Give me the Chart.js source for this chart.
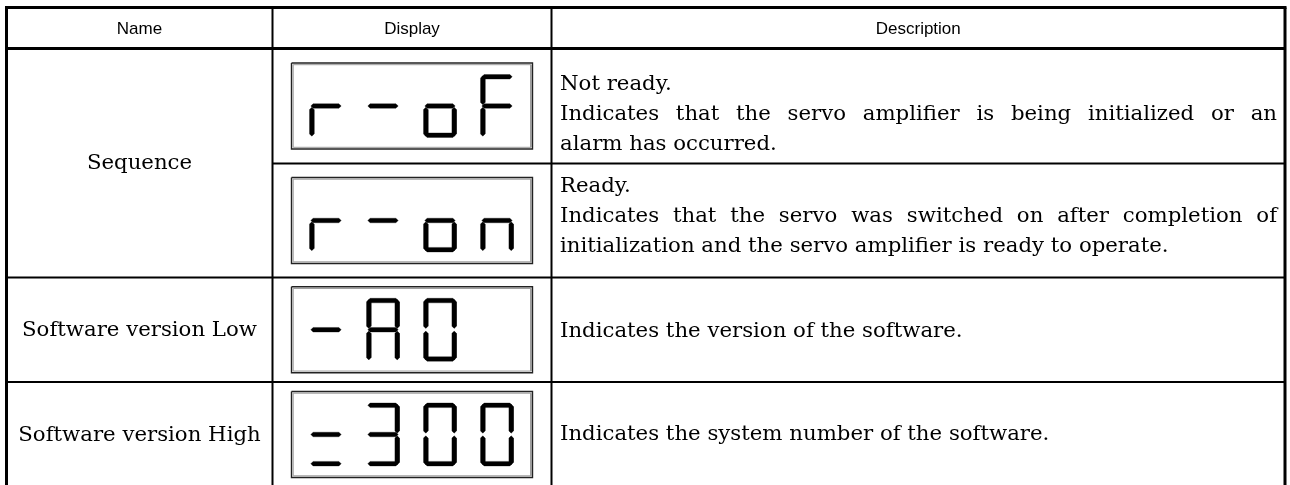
<!DOCTYPE html>
<html>
<head>
<meta charset="utf-8">
<script src="https://cdn.jsdelivr.net/npm/chart.js@4.4.1/dist/chart.umd.min.js"></script>
<style>
  html, body { margin: 0; padding: 0; background: #fff; }
  #wrap { width: 1290px; height: 485px; position: relative; }
</style>
</head>
<body>
<div id="wrap"><canvas id="table"></canvas></div>
<script>
// --- table content ---
const headers = ["Name", "Display", "Description"];
const names = ["Sequence", "Software version Low", "Software version High"];
const nameRowSpan = [2, 1, 1];
const displays = ["r-oF", "r-on", "-A0 ", "=300"];
// each row: paragraphs, each paragraph: lines (all but the last line are justified)
const descriptions = [
  [["Not ready."], ["Indicates that the servo amplifier is being initialized or an", "alarm has occurred."]],
  [["Ready."], ["Indicates that the servo was switched on after completion of", "initialization and the servo amplifier is ready to operate."]],
  [["Indicates the version of the software."]],
  [["Indicates the system number of the software."]]
];
// lit segments for each character of the 7-segment display
const segmentMap = { "r": "eg", "-": "g", "o": "cdeg", "F": "aefg", "n": "ceg", "A": "abcefg", "0": "abcdef", "=": "dg", "3": "abcdg", " ": "" };

// --- layout (pixels in the 1290 x 485 frame) ---
const colEdges = [6.5, 272.5, 551.5, 1285];
const rowEdges = [7.5, 48.5, 163.5, 277.5, 382, 487];
const boxW = 241, boxH = 86;
const digitLeft = 18, digitPitch = 57, digitW = 33, digitH = 63, digitTop = 11.5, segT = 4.6;
const descLeft = 560, descRight = 1277, descLineGap = 30;
const descBaseline = [90, 192, 337, 440];
const bodyFont = '19.5px "DejaVu Serif", serif', bodyStretch = 1.09;

const lineDatasets = [];
function addLine(pts, width, color) {
  lineDatasets.push({
    data: pts.map(([x, y]) => ({ x, y })),
    borderColor: color, borderWidth: width, pointRadius: 0, fill: false
  });
}
function addShape(pts, color) {
  const data = pts.map(([x, y]) => ({ x, y }));
  data.push({ x: pts[0][0], y: pts[0][1] });
  lineDatasets.push({
    data, borderColor: color, backgroundColor: color, borderWidth: 0.3,
    pointRadius: 0, fill: "shape"
  });
}

// table grid
const [cL, c1, c2, cR] = colEdges;
addLine([[cL - 1.5, rowEdges[0]], [cR + 1.5, rowEdges[0]]], 3, "#000");
addLine([[cL, rowEdges[0]], [cL, rowEdges[5]]], 3, "#000");
addLine([[cR, rowEdges[0]], [cR, rowEdges[5]]], 3, "#000");
addLine([[cL, rowEdges[1]], [cR, rowEdges[1]]], 3, "#000");
addLine([[c1, rowEdges[0]], [c1, rowEdges[5]]], 2, "#000");
addLine([[c2, rowEdges[0]], [c2, rowEdges[5]]], 2, "#000");
addLine([[c1, rowEdges[2]], [cR, rowEdges[2]]], 2, "#000");
addLine([[cL, rowEdges[3]], [cR, rowEdges[3]]], 2, "#000");
addLine([[cL, rowEdges[4]], [cR, rowEdges[4]]], 2, "#000");

function segmentPoly(seg, x0, y0) {
  const h = segT / 2, g = 1.3, w = digitW, H = digitH;
  const horiz = (y, xa, xb) => [[xa, y], [xa + h, y - h], [xb - h, y - h], [xb, y], [xb - h, y + h], [xa + h, y + h]];
  const vert = (x, ya, yb) => [[x, ya], [x + h, ya + h], [x + h, yb - h], [x, yb], [x - h, yb - h], [x - h, ya + h]];
  switch (seg) {
    case "a": return horiz(y0 + h, x0 + g, x0 + w - g);
    case "g": return horiz(y0 + H / 2, x0 + g, x0 + w - g);
    case "d": return horiz(y0 + H - h, x0 + g, x0 + w - g);
    case "f": return vert(x0 + h, y0 + g, y0 + H / 2 - g);
    case "b": return vert(x0 + w - h, y0 + g, y0 + H / 2 - g);
    case "e": return vert(x0 + h, y0 + H / 2 + g, y0 + H - g);
    case "c": return vert(x0 + w - h, y0 + H / 2 + g, y0 + H - g);
  }
  return [];
}

// display boxes and digits
displays.forEach((text, r) => {
  const cx = (c1 + c2) / 2, cy = (rowEdges[r + 1] + rowEdges[r + 2]) / 2;
  const bx = cx - boxW / 2, by = cy - boxH / 2;
  addLine([[bx, by], [bx + boxW, by], [bx + boxW, by + boxH], [bx, by + boxH], [bx, by]], 1.4, "#222");
  const i = 1.7;
  addLine([[bx + i, by + i], [bx + boxW - i, by + i], [bx + boxW - i, by + boxH - i], [bx + i, by + boxH - i], [bx + i, by + i]], 1, "#9a9a9a");
  [...text].forEach((ch, k) => {
    const x0 = bx + digitLeft + k * digitPitch, y0 = by + digitTop;
    [...(segmentMap[ch] || "")].forEach((s) => addShape(segmentPoly(s, x0, y0), "#000"));
  });
});

// text drawn with a slight horizontal stretch to match the wide serif of the original
function stretchedText(ctx, text, x, y, align) {
  const w = ctx.measureText(text).width * bodyStretch;
  const left = align === "center" ? x - w / 2 : x;
  ctx.save();
  ctx.translate(left, y);
  ctx.scale(bodyStretch, 1);
  ctx.fillText(text, 0, 0);
  ctx.restore();
}

function drawJustified(ctx, line, xl, xr, yb, justify) {
  if (!justify) { stretchedText(ctx, line, xl, yb, "left"); return; }
  const words = line.split(" ");
  const widths = words.map((w) => ctx.measureText(w).width * bodyStretch);
  const total = widths.reduce((a, b) => a + b, 0);
  const gap = (xr - xl - total) / (words.length - 1);
  let x = xl;
  words.forEach((w, i) => { stretchedText(ctx, w, x, yb, "left"); x += widths[i] + gap; });
}

const tableText = {
  id: "tableText",
  afterDatasetsDraw(chart) {
    const { ctx, scales: { x, y } } = chart;
    ctx.save();
    ctx.fillStyle = "#000";
    // header
    ctx.font = '17px "Liberation Sans", Arial, sans-serif';
    ctx.textAlign = "center";
    ctx.textBaseline = "middle";
    headers.forEach((h, i) => {
      ctx.fillText(h, x.getPixelForValue((colEdges[i] + colEdges[i + 1]) / 2), y.getPixelForValue((rowEdges[0] + rowEdges[1]) / 2 + 1));
    });
    // names
    ctx.font = bodyFont;
    ctx.textAlign = "left";
    let r = 0;
    names.forEach((n, i) => {
      const top = rowEdges[r + 1], bottom = rowEdges[r + 1 + nameRowSpan[i]];
      stretchedText(ctx, n, x.getPixelForValue((colEdges[0] + colEdges[1]) / 2), y.getPixelForValue((top + bottom) / 2 + 1), "center");
      r += nameRowSpan[i];
    });
    // descriptions
    ctx.textBaseline = "alphabetic";
    descriptions.forEach((paras, row) => {
      let k = 0;
      paras.forEach((lines) => {
        lines.forEach((line, j) => {
          const yb = y.getPixelForValue(descBaseline[row] + k * descLineGap);
          drawJustified(ctx, line, x.getPixelForValue(descLeft), x.getPixelForValue(descRight), yb, j < lines.length - 1);
          k++;
        });
      });
    });
    ctx.restore();
  }
};

new Chart(document.getElementById("table"), {
  type: "line",
  data: { datasets: lineDatasets },
  options: {
    responsive: true,
    maintainAspectRatio: false,
    animation: false,
    layout: { padding: 0 },
    plugins: { legend: { display: false }, tooltip: { enabled: false } },
    scales: {
      x: { type: "linear", min: 0, max: 1290, display: false },
      y: { type: "linear", min: 0, max: 485, reverse: true, display: false }
    }
  },
  plugins: [tableText]
});
</script>
</body>
</html>
